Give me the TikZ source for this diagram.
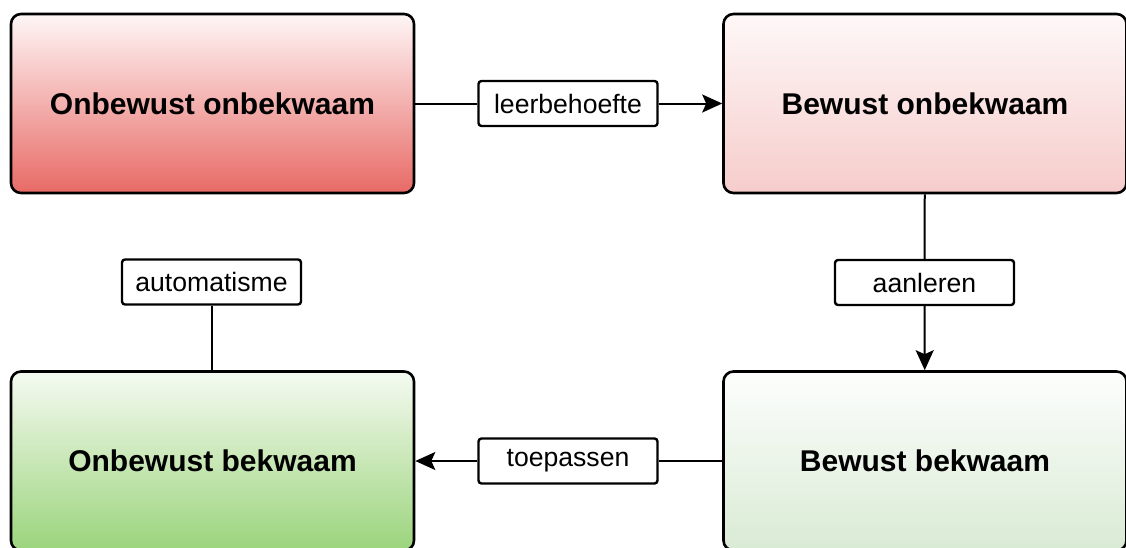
\documentclass[tikz,border=0pt]{standalone}
\usepackage{fontspec}
\setmainfont{Liberation Sans}
\usepackage{tikz}
\usetikzlibrary{arrows.meta}
\usetikzlibrary{positioning}

\definecolor{redtop}{RGB}{254,246,246}
\definecolor{redbot}{RGB}{232,106,102}
\definecolor{pinktop}{RGB}{254,248,248}
\definecolor{pinkbot}{RGB}{246,204,203}
\definecolor{greentop}{RGB}{245,250,241}
\definecolor{greenbot}{RGB}{155,212,124}
\definecolor{minttop}{RGB}{253,254,253}
\definecolor{mintbot}{RGB}{217,234,212}

\begin{document}
\begin{tikzpicture}[x=1pt, y=-1pt, line join=round,
		phase/.style={draw, line width=2.6pt, rounded corners=10pt, minimum width=403pt,
			minimum height=179pt, inner sep=0pt, font=\fontsize{30}{35}\selectfont\bfseries},
		lbl/.style={draw, fill=white, line width=2.4pt, rounded corners=3pt, minimum width=179pt,
			minimum height=45pt, inner sep=0pt, font=\fontsize{26.6}{30}\selectfont},
		conn/.style={line width=2pt},
		tip/.style={-{Stealth[length=20pt, width=18pt, inset=4pt]}}]
	
	% page size of the reference
	\useasboundingbox (0,0) rectangle (1126,547);
	
	% The four stages
	\node[phase, top color=redtop, bottom color=redbot] (onon) at (212.5,103.5) {Onbewust onbekwaam};
	\node[phase, top color=pinktop, bottom color=pinkbot] (bewon) at (925,103.5) {Bewust onbekwaam};
	\node[phase, top color=minttop, bottom color=mintbot] (bewbek) at (925,461) {Bewust bekwaam};
	\node[phase, top color=greentop, bottom color=greenbot] (onbek) at (212.5,461) {Onbewust bekwaam};
	
	% Labels on the transitions
	\node[lbl] (leer) at (568,103.5) {leerbehoefte};
	\node[lbl] (aan) at (924.5,282.5) {aanleren};
	\node[lbl] (toep) at (568,461) {toepassen};
	\node[lbl] (auto) at (211.5,282) {automatisme};
	
	% Transitions
	\draw[conn] (onon) -- (leer);
	\draw[conn, tip] (leer) -- (bewon);
	\draw[conn] (bewon) -- (aan);
	\draw[conn, tip] (aan) -- (bewbek);
	\draw[conn] (bewbek) -- (toep);
	\draw[conn, tip] (toep) -- (onbek);
	\draw[conn] (onbek.north -| auto.south) -- (auto);
	
\end{tikzpicture}
\end{document}
